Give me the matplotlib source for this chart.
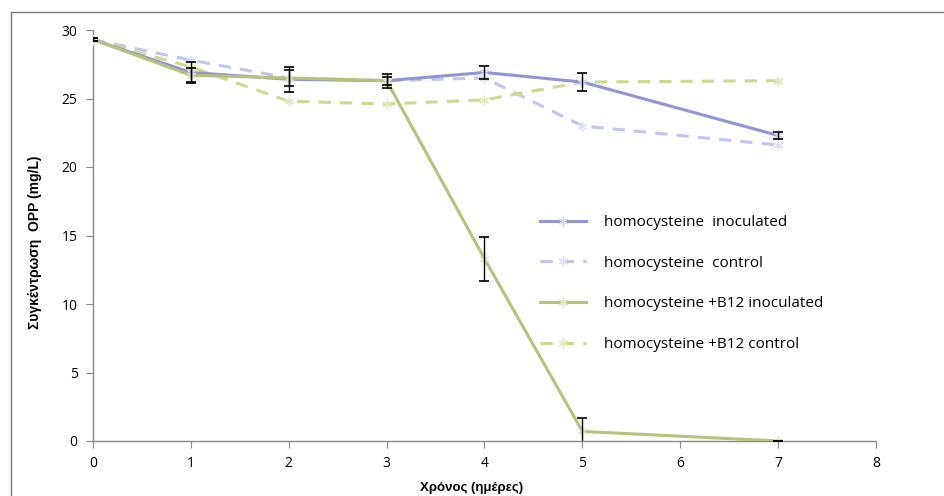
import matplotlib
matplotlib.use("Agg")
import matplotlib.pyplot as plt
from matplotlib.lines import Line2D

days = [0, 1, 2, 3, 4, 5, 7]
hcy_inoc = [29.3, 26.9, 26.4, 26.3, 26.9, 26.2, 22.3]
hcy_inoc_err = [0.1, 0.8, 0.9, 0.5, 0.45, 0.65, 0.25]
hcy_ctrl = [29.3, 27.8, 26.5, 26.3, 26.5, 23.0, 21.6]
b12_inoc = [29.3, 26.7, 26.5, 26.3, 13.3, 0.7, 0.0]
b12_inoc_err = [0.1, 0.5, 0.6, 0.3, 1.6, 1.0, 0.0]
b12_ctrl = [29.3, 27.3, 24.8, 24.6, 24.9, 26.2, 26.3]

labels = ["homocysteine  inoculated", "homocysteine  control",
          "homocysteine +B12 inoculated", "homocysteine +B12 control"]
xticks = list(range(0, 9))
yticks = list(range(0, 31, 5))

c_blue = "#9295d4"
c_blue_l = "#c0c6ec"
c_green = "#b6c27e"
c_green_l = "#cfd892"

fig = plt.figure(figsize=(9.45, 4.96), dpi=100)
ax = fig.add_axes([93/945, 1-441/496, (876-93)/945, (441-30)/496])

star = (6, 2, 0)
ax.plot(days, hcy_ctrl, color=c_blue_l, lw=2.2, dashes=(4, 3), marker=star, ms=7, mec="#dde0f4", mew=1, label=labels[1], zorder=2)
ax.plot(days, b12_ctrl, color=c_green_l, lw=2.2, dashes=(4, 3), marker=star, ms=7, mec="#e3e8c0", mew=1, label=labels[3], zorder=2)
ax.plot(days, hcy_inoc, color=c_blue, lw=2.2, marker=star, ms=7, mec="#d6d8f0", mew=1, label=labels[0], zorder=3)
ax.plot(days, b12_inoc, color=c_green, lw=2.2, marker=star, ms=7, mec="#e0e4c8", mew=1, label=labels[2], zorder=3)
ax.errorbar(days, hcy_inoc, yerr=hcy_inoc_err, fmt="none", ecolor="black", elinewidth=1, capsize=3.5, capthick=1.2, zorder=4)
ax.errorbar(days, b12_inoc, yerr=b12_inoc_err, fmt="none", ecolor="black", elinewidth=1, capsize=3.5, capthick=1.2, zorder=4)

ax.set_xlim(0, 8)
ax.set_ylim(0, 30)
ax.set_xticks(xticks)
ax.set_yticks(yticks)
for s in ["top", "right"]:
    ax.spines[s].set_visible(False)
for s in ["left", "bottom"]:
    ax.spines[s].set_color("#888888")
    ax.spines[s].set_linewidth(1)
ax.tick_params(axis="both", direction="out", length=5, color="#888888", labelsize=10, pad=6)
for t in ax.get_xticklabels() + ax.get_yticklabels():
    t.set_family("Open Sans")
ax.set_xlabel("Χρόνος (ημέρες)", fontsize=9.5, fontweight="bold", family="Liberation Sans", labelpad=8)
ax.set_ylabel("Συγκέντρωση  OPP (mg/L)", fontsize=10, fontweight="bold", family="Liberation Sans", labelpad=14)
ax.xaxis.label.set_x((472 - 93) / 783)
ax.yaxis.label.set_y(1 - (242 - 30) / 411)

handles, labs = ax.get_legend_handles_labels()
hmap = dict(zip(labs, handles))
leg = fig.legend([hmap[l] for l in labels], labels, loc="upper left",
                 bbox_to_anchor=(540/945, 1-215/496),
                 bbox_transform=fig.transFigure, frameon=False, fontsize=11,
                 handlelength=3.0, labelspacing=1.68, handletextpad=1.2, borderaxespad=0, borderpad=0)
for t in leg.get_texts():
    t.set_family("Open Sans")

fig.add_artist(Line2D([12/945, 1.0], [1-12/496, 1-12/496], transform=fig.transFigure, color="#777777", lw=1))
fig.add_artist(Line2D([11/945, 11/945], [0, 1-12/496], transform=fig.transFigure, color="#777777", lw=1))

fig.savefig("out.png", dpi=100)
